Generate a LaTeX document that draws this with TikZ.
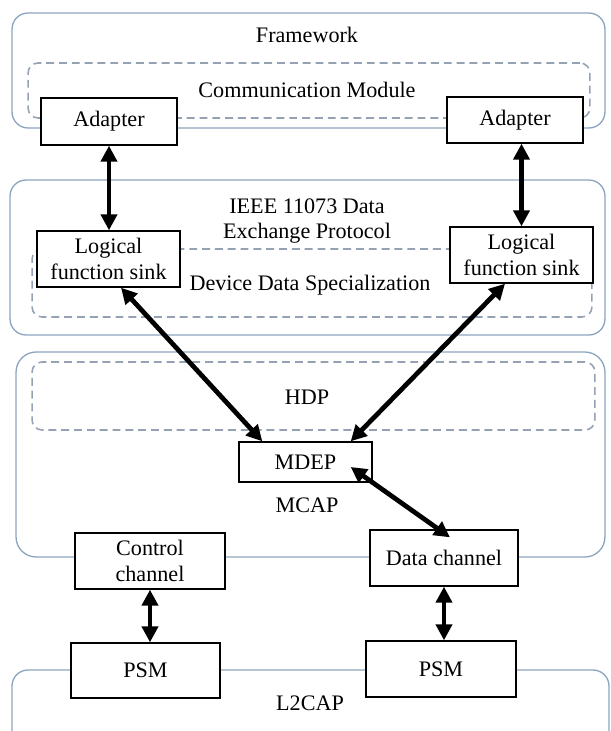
\documentclass[tikz,border=0pt]{standalone}
\usepackage{fontspec}
\setmainfont{Liberation Serif}
\usepackage{tikz}
\usetikzlibrary{positioning,arrows.meta,calc}

\definecolor{framecol}{RGB}{140,164,190}
\definecolor{dashcol}{RGB}{148,162,180}

\begin{document}
\begin{tikzpicture}[
  x=0.02cm,y=-0.02cm,
  font=\fontsize{12.6}{14.5}\selectfont,
  layer/.style={draw=framecol,line width=0.75pt,rounded corners=0.32cm},
  inner/.style={draw=dashcol,line width=0.9pt,dash pattern=on 4.5pt off 2.8pt,rounded corners=0.2cm},
  box/.style={rectangle,draw,line width=0.8pt,fill=white,align=center,inner sep=2pt,minimum width=#1},
  arrow/.style={{Triangle[length=9pt,width=9pt]}-{Triangle[length=9pt,width=9pt]},line width=2.7pt},
  lbl/.style={align=center,inner sep=0pt},
]
\useasboundingbox (0,0) rectangle (611,731);

% === FRAMEWORK ===
\node[layer,minimum width=11.86cm,minimum height=2.3cm] (framework) at (308.5,70.5) {};
\node[lbl] (frameworklbl) at (307,35) {Framework};
\node[inner,minimum width=11.24cm,minimum height=1.1cm] (commmod) at (309,90.5) {};
\node[lbl] (commmodlbl) at (307,90) {Communication Module};
\node[box=2.72cm,minimum height=0.94cm] (adapterL) at (109,121.5) {Adapter};
\node[box=2.72cm,minimum height=0.92cm] (adapterR) at (515,120) {Adapter};

% === IEEE 11073 ===
\node[layer,minimum width=11.9cm,minimum height=3.1cm] (ieee) at (307.5,257.5) {};
\node[lbl] (ieeelbl) at (307,221) {IEEE 11073 Data\\Exchange Protocol};
\node[inner,minimum width=11.2cm,minimum height=1.36cm] (dds) at (312,283) {};
\node[lbl] (ddslbl) at (310,285) {Device Data Specialization};
\node[box=2.86cm,minimum height=1.12cm] (lfsL) at (108.5,259) {Logical\\function sink};
\node[box=2.86cm,minimum height=1.12cm] (lfsR) at (521.5,255) {Logical\\function sink};

% === MCAP ===
\node[layer,rounded corners=0.4cm,minimum width=11.78cm,minimum height=4.1cm] (mcap) at (310.5,454.5) {};
\node[inner,minimum width=11.26cm,minimum height=1.36cm] (hdp) at (313.5,396) {};
\node[lbl] (hdplbl) at (307,397) {HDP};
\node[box=2.66cm,minimum height=0.8cm] (mdep) at (305.5,462) {MDEP};
\node[lbl] (mcaplbl) at (307,505) {MCAP};
\node[box=3.0cm,minimum height=1.12cm] (control) at (150,561) {Control\\channel};
\node[box=2.96cm,minimum height=1.12cm] (data) at (444,558) {Data channel};

% === L2CAP ===
\draw[layer] (12,745) -- (12,670) -- (609,670) -- (609,745);
\node[lbl] (l2caplbl) at (310,703) {L2CAP};
\node[box=2.98cm,minimum height=1.1cm] (psmL) at (145.5,670.5) {PSM};
\node[box=3.0cm,minimum height=1.12cm] (psmR) at (441,669) {PSM};

% Links between layers
\draw[arrow] (adapterL.south) -- (adapterL.south |- lfsL.north);
\draw[arrow] (lfsR.north |- adapterR.south) -- (lfsR.north);
\draw[arrow] ([xshift=0.25cm]lfsL.south) -- ([xshift=0.48cm]mdep.north west);
\draw[arrow] ([xshift=-0.33cm]lfsR.south) -- ([xshift=-0.44cm]mdep.north east);
\draw[arrow] ([xshift=-0.44cm,yshift=-0.1cm]mdep.east) -- ([xshift=0.12cm,yshift=-0.16cm]data.north);
\draw[arrow] (control.south) -- (control.south |- psmL.north);
\draw[arrow] (data.south) -- (data.south |- psmR.north);

\end{tikzpicture}
\end{document}
